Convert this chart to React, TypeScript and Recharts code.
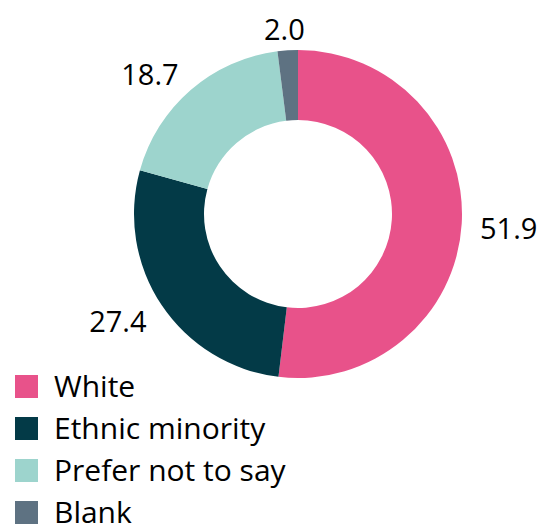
import { PieChart, Pie, Cell, Legend } from 'recharts';

const categories = ['White', 'Ethnic minority', 'Prefer not to say', 'Blank'];
const shares = [51.9, 27.4, 18.7, 2.0];
const colors = ['#E8528A', '#033A47', '#9DD4CD', '#5E7282'];

const data = categories.map((name, i) => ({ name, value: shares[i] }));

const FONT = '"Open Sans", sans-serif';
const RAD = Math.PI / 180;

// label box sits just outside the ring, nearest edge ~18px from it
const renderLabel = (props: any) => {
  const { cx, cy, midAngle, outerRadius, value } = props;
  const text = value.toFixed(1);
  const w = text.length * 14.5;
  const h = 12;
  const cos = Math.cos(-midAngle * RAD);
  const sin = Math.sin(-midAngle * RAD);
  const r = outerRadius + 18;
  const kx = Math.sign(cos) * Math.min(1, Math.abs(cos) * 1.6);
  const x = cx + r * cos + (kx * w) / 2;
  const y = cy + r * sin + (sin * h) / 2 + 2;
  return (
    <text
      x={x}
      y={y}
      fill="#000"
      fontSize={29}
      fontFamily={FONT}
      textAnchor="middle"
      dominantBaseline="central"
    >
      {text}
    </text>
  );
};

const renderLegend = () => (
  <div style={{ fontFamily: FONT, fontSize: 30, color: '#000' }}>
    {categories.map((name, i) => (
      <div key={name} style={{ display: 'flex', alignItems: 'center', height: 42 }}>
        <span
          style={{
            display: 'inline-block',
            width: 23,
            height: 23,
            background: colors[i],
            marginRight: 16,
          }}
        />
        <span style={{ lineHeight: '42px' }}>{name}</span>
      </div>
    ))}
  </div>
);

export default function App() {
  return (
    <PieChart width={550} height={532} style={{ overflow: 'visible' }}>
      <Pie
        data={data}
        dataKey="value"
        nameKey="name"
        cx={285}
        cy={201}
        innerRadius={94}
        outerRadius={164}
        startAngle={90}
        endAngle={-270}
        stroke="none"
        label={renderLabel}
        labelLine={false}
        isAnimationActive={false}
      >
        {data.map((d, i) => (
          <Cell key={d.name} fill={colors[i]} />
        ))}
      </Pie>
      <Legend
        content={renderLegend}
        wrapperStyle={{ left: 7, top: 357, width: 340 }}
      />
    </PieChart>
  );
}
